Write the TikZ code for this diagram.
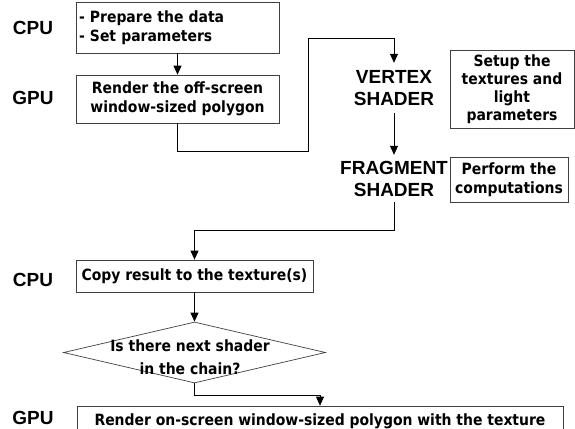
\documentclass[tikz,border=0pt]{standalone}
\usepackage{fontspec}
\setmainfont{DejaVu Sans Condensed}
\newfontfamily\lblfont{Liberation Sans}
\usetikzlibrary{shapes.geometric, arrows.meta, positioning}

\tikzset{
  stepbox/.style={draw=black!75, line width=0.7pt, inner sep=2pt,
    font=\bfseries\fontsize{15.5}{19}\selectfont},
  unit/.style={font=\lblfont\bfseries\fontsize{19}{22}\selectfont},
  stage/.style={font=\lblfont\bfseries\fontsize{19}{22}\selectfont, align=center},
  flow/.style={->, line width=0.7pt},
}

\begin{document}
\begin{tikzpicture}[x=1pt, y=-1pt, >={Triangle[width=8pt,length=9pt]}]
  \useasboundingbox (0,0) rectangle (575,428);
  % processor labels
  \node[unit] (cpu1) at (33,28) {CPU};
  \node[unit] (gpu1) at (33,98) {GPU};
  \node[unit] (cpu2) at (33,280) {CPU};
  \node[unit] (gpu2) at (33,418) {GPU};
  % off-screen pass
  \node[stepbox, minimum width=203pt, minimum height=51pt, text width=197pt, align=left]
    (prep) at (177.5,27.5) {- Prepare the data\\- Set parameters};
  \node[stepbox, minimum width=203pt, minimum height=48pt, align=center]
    (offscr) at (177.5,99) {Render the off-screen\\window-sized polygon};
  \node[stage, minimum height=50pt] (vtx) at (394,88) {VERTEX\\SHADER};
  \node[stage, minimum height=47pt] (frag) at (394,178.5) {FRAGMENT\\SHADER};
  \node[stepbox, minimum width=124pt, minimum height=78pt, align=center,
    font=\bfseries\fontsize{15.5}{18}\selectfont] (setup) at (512,89)
    {Setup the\\textures and\\light\\parameters};
  \node[stepbox, minimum width=118pt, minimum height=45pt, align=center]
    (perf) at (509,179.5) {Perform the\\computations};
  % read back and loop
  \node[stepbox, minimum width=237pt, minimum height=32pt] (copy) at (194.5,276)
    {Copy result to the texture(s)};
  \node[diamond, draw=black!75, line width=0.7pt, inner sep=0pt,
    minimum width=262pt, minimum height=61pt] (chain) at (194.5,352.5) {};
  \node[font=\bfseries\fontsize{15.5}{23}\selectfont, align=center] (chaintxt)
    at (190,357) {Is there next shader\\in the chain?};
  \node[stepbox, minimum width=486pt, minimum height=30pt] (onscr) at (320,421)
    {Render on-screen window-sized polygon with the texture};

  \coordinate (turnA) at (308,151);
  \coordinate (turnB) at (394,38);
  \draw[flow] (prep) -- (offscr);
  \draw[flow] (offscr.south) |- (turnA) |- (turnB) -- (vtx.north);
  \draw[flow] (vtx) -- (frag);
  \draw[flow] (frag.south) -- ++(0,28) -| (copy.north);
  \draw[flow] (copy) -- (chain);
  \draw[flow] (chain.south) -- ++(0,12) -| (onscr.north);
\end{tikzpicture}
\end{document}
